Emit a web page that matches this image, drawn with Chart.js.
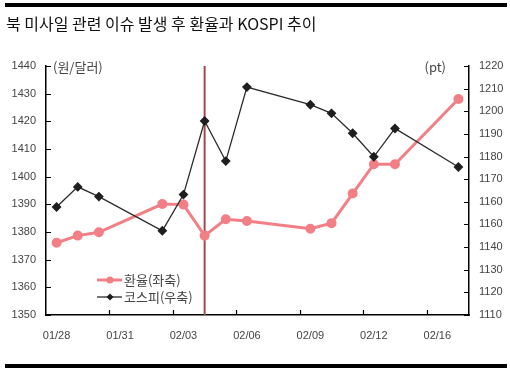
<!DOCTYPE html>
<html>
<head>
<meta charset="utf-8">
<script src="https://cdn.jsdelivr.net/npm/chart.js@4/dist/chart.umd.min.js"></script>
<style>
html,body{margin:0;padding:0;background:#fff;}
#wrap{position:relative;width:510px;height:370px;}
</style>
</head>
<body>
<div id="wrap"><canvas id="c" width="510" height="370"></canvas></div>
<script>
// ---- data ----
const categories = ['01/28','01/29','01/30','01/31','02/01','02/02','02/03','02/04','02/05','02/06',
                    '02/07','02/08','02/09','02/10','02/11','02/12','02/13','02/14','02/15','02/16'];
const xTickLabels = ['01/28','','','01/31','','','02/03','','','02/06',
                     '','','02/09','','','02/12','','','02/16',''];
const fxRate = [1376.1, 1378.7, 1379.9, null, null, 1390.1, 1389.9, 1378.7, 1384.6, 1384.0,
                null, null, 1381.2, 1383.2, 1393.9, 1404.5, 1404.5, null, null, 1428.1];
const kospi  = [1157.7, 1166.6, 1162.3, null, null, 1147.2, 1163.2, 1195.7, 1178.0, 1210.7,
                null, null, 1202.9, 1199.1, 1190.3, 1179.9, 1192.4, null, null, 1175.4];
const leftTickLabels  = ['1350','1360','1370','1380','1390','1400','1410','1420','1430','1440'];
const rightTickLabels = ['1110','1120','1130','1140','1160','1160','1170','1180','1190','1200','1210','1220'];
const seriesNames = ['환율(좌축)','코스피(우축)'];
const eventIndex = 7;
const titleText = '북 미사일 관련 이슈 발생 후 환율과 KOSPI 추이';
const leftUnit = '(원/달러)';
const rightUnit = '(pt)';

const PINK = '#f27f86';
const DARK = '#2b2b2b';
const TXT = '#444444';
const FONT = "'Liberation Sans', Arial, sans-serif";
const KFONT = "'Noto Sans CJK KR', 'Noto Sans', sans-serif";

const decor = {
  id: 'decor',
  beforeDatasetsDraw(chart) {
    const ctx = chart.ctx, a = chart.chartArea, x = chart.scales.x;
    const ex = x.getPixelForValue(eventIndex);
    ctx.save();
    ctx.strokeStyle = '#a8474a';
    ctx.lineWidth = 2;
    ctx.beginPath(); ctx.moveTo(ex, a.top); ctx.lineTo(ex, a.bottom); ctx.stroke();
    ctx.restore();
  },
  afterDraw(chart) {
    const ctx = chart.ctx, a = chart.chartArea;
    const x = chart.scales.x, yl = chart.scales.y, yr = chart.scales.y1;
    ctx.save();
    // frame bars
    ctx.fillStyle = '#000';
    ctx.fillRect(5, 3, 502, 4);
    ctx.fillRect(5, 364, 502, 4);
    // title
    ctx.fillStyle = '#111';
    ctx.font = "16px " + KFONT;
    ctx.textBaseline = 'middle';
    ctx.textAlign = 'left';
    ctx.fillText(titleText, 6, 24);
    // inward ticks
    ctx.strokeStyle = '#000';
    ctx.lineWidth = 1.2;
    ctx.beginPath();
    yl.ticks.forEach(t => { const p = Math.round(yl.getPixelForValue(t.value)) + 0.5; ctx.moveTo(a.left, p); ctx.lineTo(a.left + 5, p); });
    yr.ticks.forEach(t => { const p = Math.round(yr.getPixelForValue(t.value)) + 0.5; ctx.moveTo(a.right, p); ctx.lineTo(a.right - 5, p); });
    for (let i = 3; i < categories.length; i += 3) {
      const p = Math.round((x.getPixelForValue(i - 1) + x.getPixelForValue(i)) / 2) + 0.5;
      ctx.moveTo(p, a.bottom); ctx.lineTo(p, a.bottom - 5);
    }
    ctx.stroke();
    // unit labels
    ctx.fillStyle = TXT;
    ctx.font = "13px " + KFONT;
    ctx.textAlign = 'left';
    ctx.fillText(leftUnit, a.left + 7, a.top + 1);
    ctx.textAlign = 'right';
    ctx.fillText(rightUnit, a.right - 23, a.top + 1);
    // legend
    const items = chart.data.datasets;
    const ly = [280, 297];
    items.forEach((ds, i) => {
      const y = ly[i];
      ctx.strokeStyle = ds.borderColor;
      ctx.lineWidth = ds.borderWidth;
      ctx.beginPath(); ctx.moveTo(97, y); ctx.lineTo(122, y); ctx.stroke();
      ctx.fillStyle = ds.pointBackgroundColor;
      ctx.beginPath();
      if (ds.pointStyle === 'rectRot') {
        const r = 3.5;
        ctx.moveTo(110, y - r); ctx.lineTo(110 + r, y); ctx.lineTo(110, y + r); ctx.lineTo(110 - r, y); ctx.closePath();
      } else {
        ctx.arc(110, y, 3.5, 0, Math.PI * 2);
      }
      ctx.fill();
      ctx.fillStyle = TXT;
      ctx.font = "13px " + KFONT;
      ctx.textAlign = 'left';
      ctx.fillText(ds.label, 124, y);
    });
    ctx.restore();
  }
};

new Chart(document.getElementById('c'), {
  type: 'line',
  data: {
    labels: categories,
    datasets: [
      { label: seriesNames[0], data: fxRate, yAxisID: 'y', borderColor: PINK, backgroundColor: PINK,
        pointBackgroundColor: PINK, pointBorderColor: PINK, borderWidth: 3, pointRadius: 3.5,
        pointStyle: 'circle', spanGaps: true, tension: 0, order: 2 },
      { label: seriesNames[1], data: kospi, yAxisID: 'y1', borderColor: DARK, backgroundColor: '#1e1e1e',
        pointBackgroundColor: '#1e1e1e', pointBorderColor: '#1e1e1e', borderWidth: 1.3, pointRadius: 4,
        pointStyle: 'rectRot', spanGaps: true, tension: 0, order: 1 }
    ]
  },
  options: {
    responsive: false,
    animation: false,
    devicePixelRatio: 1,
    layout: { padding: { left: 0, right: 0, top: 66, bottom: 25 } },
    plugins: { legend: { display: false }, tooltip: { enabled: false }, title: { display: false } },
    scales: {
      x: {
        offset: true,
        grid: { display: true, drawOnChartArea: false, drawTicks: false, offset: true },
        border: { display: true, color: '#000', width: 1.5 },
        ticks: { autoSkip: false, maxRotation: 0, minRotation: 0, padding: 14, color: TXT,
                 font: { family: FONT, size: 11 },
                 callback: (v, i) => xTickLabels[i] },
        afterFit: s => { s.height = 30; }
      },
      y: {
        position: 'left', min: 1350, max: 1440,
        grid: { display: true, drawOnChartArea: false, drawTicks: false },
        border: { display: true, color: '#000', width: 1.5 },
        ticks: { stepSize: 10, padding: 10, color: TXT, font: { family: FONT, size: 11 },
                 callback: (v, i) => leftTickLabels[i] },
        afterFit: s => { s.width = 46; }
      },
      y1: {
        position: 'right', min: 1110, max: 1220,
        grid: { display: true, drawOnChartArea: false, drawTicks: false },
        border: { display: true, color: '#000', width: 1.5 },
        ticks: { stepSize: 10, padding: 10, color: TXT, font: { family: FONT, size: 11 },
                 callback: (v, i) => rightTickLabels[i] },
        afterFit: s => { s.width = 41; }
      }
    }
  },
  plugins: [decor]
});
</script>
</body>
</html>
